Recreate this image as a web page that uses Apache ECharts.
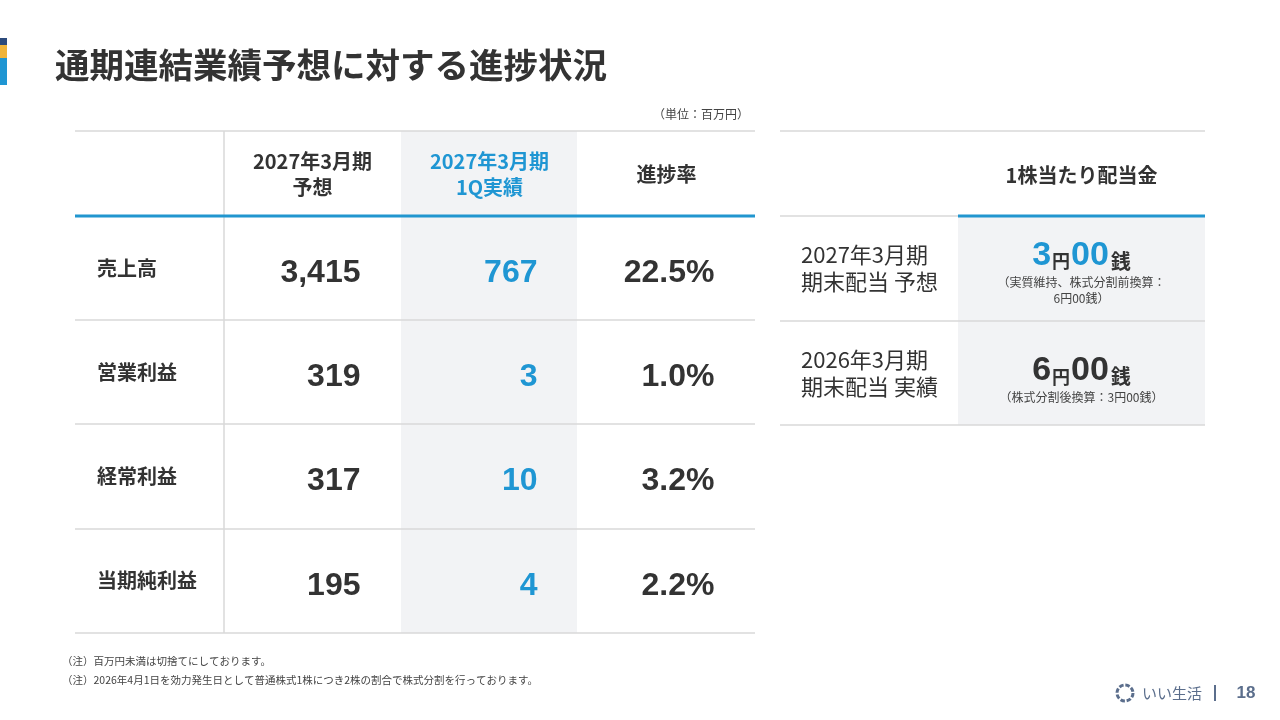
<!DOCTYPE html>
<html>
<head>
<meta charset="utf-8">
<script src="https://cdn.jsdelivr.net/npm/echarts@6/dist/echarts.min.js"></script>
<style>
html,body{margin:0;padding:0;background:#fff;}
#chart{width:1280px;height:720px;}
</style>
</head>
<body>
<div id="chart"></div>
<script>
// ---- data ----
const title = '通期連結業績予想に対する進捗状況';
const unitNote = '（単位：百万円）';
const headers = ['2027年3月期\n予想', '2027年3月期\n1Q実績', '進捗率'];
const rowLabels = ['売上高', '営業利益', '経常利益', '当期純利益'];
const forecast = [3415, 319, 317, 195];
const actual1Q = [767, 3, 10, 4];
const progress = [22.5, 1.0, 3.2, 2.2];

const divHeader = ['1株当たり配当金'];
const divLabels = ['2027年3月期\n期末配当 予想', '2026年3月期\n期末配当 実績'];
const divYen = [3, 6];
const divSen = ['00', '00'];
const divNotes = ['（実質維持、株式分割前換算：\n6円00銭）', '（株式分割後換算：3円00銭）'];

const footnotes = ['（注）百万円未満は切捨てにしております。', '（注）2026年4月1日を効力発生日として普通株式1株につき2株の割合で株式分割を行っております。'];
const brand = 'いい生活';
const pageNo = '18';

// ---- styles ----
const BLUE = '#1f96d3';
const DARK = '#333333';
const GRAY = '#d9d9d9';
const SHADE = '#f2f3f5';
const JP = "'Noto Sans CJK JP', sans-serif";
const NUM = "'Liberation Sans', Arial, sans-serif";

const chart = echarts.init(document.getElementById('chart'));

const tableCells = [];
rowLabels.forEach((_, r) => { for (let c = 0; c < 3; c++) tableCells.push([c, r]); });
const divCells = divLabels.map((_, r) => [0, r]);

function cellText(c, r) {
  if (c === 0) return forecast[r].toLocaleString('en-US');
  if (c === 1) return String(actual1Q[r]);
  return progress[r].toFixed(1) + '%';
}

function hline(x1, x2, y, color, w, z) {
  return { type: 'line', z: z || 5, shape: { x1, y1: y, x2, y2: y }, style: { stroke: color, lineWidth: w } };
}

const option = {
  backgroundColor: '#ffffff',
  animation: false,
  grid: [
    { left: 224, top: 216, width: 531, height: 417 },
    { left: 958, top: 216, width: 247, height: 209 }
  ],
  xAxis: [
    {
      type: 'category', gridIndex: 0, position: 'top', data: headers,
      axisLine: { show: false }, axisTick: { show: false }, splitLine: { show: false },
      axisLabel: {
        margin: 42, verticalAlign: 'middle', fontFamily: JP, fontSize: 20, fontWeight: 'bold', lineHeight: 26,
        color: (v, i) => (i === 1 ? BLUE : DARK)
      }
    },
    {
      type: 'category', gridIndex: 1, position: 'top', data: divHeader,
      axisLine: { show: false }, axisTick: { show: false }, splitLine: { show: false },
      axisLabel: { margin: 41, verticalAlign: 'middle', fontFamily: JP, fontSize: 20, fontWeight: 'bold', color: DARK }
    }
  ],
  yAxis: [
    {
      type: 'category', gridIndex: 0, inverse: true, data: rowLabels,
      axisLine: { show: false }, axisTick: { show: false }, splitLine: { show: false },
      axisLabel: { align: 'left', margin: 127, fontFamily: JP, fontSize: 20, fontWeight: 'bold', color: DARK, padding: [5, 0, 0, 0] }
    },
    {
      type: 'category', gridIndex: 1, inverse: true, data: divLabels,
      axisLine: { show: false }, axisTick: { show: false }, splitLine: { show: false },
      axisLabel: { align: 'left', margin: 157, fontFamily: JP, fontSize: 22, lineHeight: 27, color: DARK, padding: [4, 0, 0, 0] }
    }
  ],
  series: [
    {
      type: 'custom', xAxisIndex: 0, yAxisIndex: 0, data: tableCells, z: 10,
      renderItem: function (params, api) {
        const c = api.value(0), r = api.value(1);
        const p = api.coord([c, r]);
        return {
          type: 'text',
          style: {
            text: cellText(c, r), x: p[0] + 48, y: p[1] + 5,
            align: 'right', verticalAlign: 'middle',
            font: "bold 32px 'Liberation Sans', Arial, sans-serif",
            fill: c === 1 ? BLUE : DARK
          }
        };
      }
    },
    {
      type: 'custom', xAxisIndex: 1, yAxisIndex: 1, data: divCells, z: 10,
      renderItem: function (params, api) {
        const r = api.value(1);
        const p = api.coord([0, r]);
        const nLines = divNotes[r].split('\n').length;
        const bigY = p[1] + 6 - nLines * 11;
        const col = r === 0 ? BLUE : DARK;
        return {
          type: 'group',
          children: [
            {
              type: 'text',
              style: {
                text: '{d|' + divYen[r] + '}{u|円}{d|' + divSen[r] + '}{v|銭}',
                x: p[0], y: bigY, align: 'center', verticalAlign: 'middle',
                rich: {
                  d: { fontSize: 34, fontWeight: 'bold', fontFamily: NUM, fill: col, lineHeight: 40, verticalAlign: 'bottom' },
                  u: { fontSize: 18, fontWeight: 'bold', fontFamily: JP, fill: DARK, lineHeight: 40, verticalAlign: 'bottom', padding: [0, 1, 2, 1] },
                  v: { fontSize: 20, fontWeight: 'bold', fontFamily: JP, fill: DARK, lineHeight: 40, verticalAlign: 'bottom', padding: [0, 0, 1, 2] }
                }
              }
            },
            {
              type: 'text',
              style: {
                text: divNotes[r], x: p[0], y: bigY + 22, align: 'center', verticalAlign: 'top',
                fontSize: 12, fontFamily: JP, lineHeight: 16, fill: '#444'
              }
            }
          ]
        };
      }
    }
  ],
  graphic: [
    // left brand bar
    { type: 'rect', shape: { x: 0, y: 38, width: 7, height: 7 }, style: { fill: '#2c4a7c' } },
    { type: 'rect', shape: { x: 0, y: 45, width: 7, height: 13 }, style: { fill: '#f0b43a' } },
    { type: 'rect', shape: { x: 0, y: 58, width: 7, height: 27 }, style: { fill: '#1f96d3' } },
    // title
    { type: 'text', x: 55, y: 65, style: { text: title, font: "bold 34.5px 'Noto Sans CJK JP', sans-serif", fill: DARK, verticalAlign: 'middle' } },
    // unit
    { type: 'text', x: 749, y: 114, style: { text: unitNote, font: "12px 'Noto Sans CJK JP', sans-serif", fill: '#444', align: 'right', verticalAlign: 'middle' } },
    // shading
    { type: 'rect', z: 0, shape: { x: 401, y: 131, width: 176, height: 502 }, style: { fill: SHADE } },
    { type: 'rect', z: 0, shape: { x: 958, y: 216, width: 247, height: 209 }, style: { fill: SHADE } },
    // left table rules
    hline(75, 755, 131, GRAY, 1.5),
    hline(75, 755, 320, GRAY, 1.5),
    hline(75, 755, 424, GRAY, 1.5),
    hline(75, 755, 529, GRAY, 1.5),
    hline(75, 755, 633, GRAY, 1.5),
    { type: 'line', z: 5, shape: { x1: 224, y1: 131, x2: 224, y2: 633 }, style: { stroke: GRAY, lineWidth: 1.5 } },
    hline(75, 755, 216, '#2196cf', 3, 6),
    // right table rules
    hline(780, 1205, 131, GRAY, 1.5),
    hline(780, 958, 216, GRAY, 1.5),
    hline(958, 1205, 216, '#2196cf', 3, 6),
    hline(780, 1205, 321, GRAY, 1.5),
    hline(780, 1205, 425, GRAY, 1.5),
    // footnotes
    { type: 'text', x: 62, y: 661, style: { text: footnotes[0], font: "10.5px 'Noto Sans CJK JP', sans-serif", fill: '#444', verticalAlign: 'middle' } },
    { type: 'text', x: 62, y: 680, style: { text: footnotes[1], font: "10.5px 'Noto Sans CJK JP', sans-serif", fill: '#444', verticalAlign: 'middle' } },
    // brand logo
    { type: 'circle', shape: { cx: 1125, cy: 693, r: 8 }, style: { fill: 'none', stroke: '#5b6e8c', lineWidth: 3, lineDash: [4.5, 1.8] } },
    { type: 'text', x: 1142, y: 693, style: { text: brand, font: "15px 'Noto Sans CJK JP', sans-serif", fill: '#5b6e8c', verticalAlign: 'middle' } },
    { type: 'rect', shape: { x: 1214, y: 685, width: 2, height: 16 }, style: { fill: '#5b6e8c' } },
    { type: 'text', x: 1246, y: 693, style: { text: pageNo, font: "bold 17px 'Liberation Sans', sans-serif", fill: '#5b6e8c', align: 'center', verticalAlign: 'middle' } }
  ]
};

chart.setOption(option);
</script>
</body>
</html>
